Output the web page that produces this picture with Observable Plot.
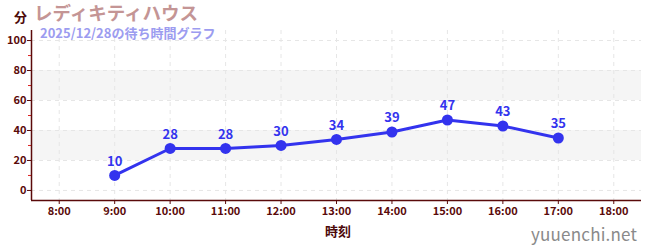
<!DOCTYPE html>
<html><head><meta charset="utf-8">
<script src="https://cdn.jsdelivr.net/npm/d3@7"></script>
<script src="https://cdn.jsdelivr.net/npm/@observablehq/plot@0.6"></script>
<style>
body{margin:0;background:#fff;font-family:"Noto Sans CJK JP","Noto Sans",sans-serif;}
#wrap{position:relative;width:650px;height:250px;overflow:hidden;}
.lab{position:absolute;font-weight:bold;white-space:nowrap;line-height:1;}
</style></head><body>
<div id="wrap">
<div id="chart"></div>
<div class="lab" style="left:14px;top:10px;font-size:13px;color:#4d0a0a;">分</div>
<div class="lab" style="left:34px;top:3px;font-size:18.5px;line-height:19px;color:#c49595;">レディキティハウス</div>
<div class="lab" style="left:40px;top:26px;font-size:13px;line-height:13px;color:#9c9cf0;">2025/12/28の待ち時間グラフ</div>
<div class="lab" style="left:325px;top:224px;font-size:13px;color:#4d0a0a;">時刻</div>
<div class="lab" style="left:531px;top:225px;font-size:17px;color:#8a8a8a;font-weight:normal;letter-spacing:0.2px;">yuuenchi.net</div>
</div>
<script>
const hours = [9, 10, 11, 12, 13, 14, 15, 16, 17];
const waits = [10, 28, 28, 30, 34, 39, 47, 43, 35];
const xTicks = [8, 9, 10, 11, 12, 13, 14, 15, 16, 17, 18];
const yTicks = [0, 20, 40, 60, 80, 100];
const yMinor = [10, 30, 50, 70, 90];
const bands = [[20, 40], [60, 80]];
const xDomain = [7.5, 18.5];
const yDomain = [-6.7, 106.7];

const data = hours.map((h, i) => ({h, w: waits[i]}));
const axisColor = "#5a0a0a";
const blue = "#3333ee";

const chart = Plot.plot({
  width: 650, height: 250,
  marginLeft: 31, marginRight: 9, marginTop: 30, marginBottom: 50,
  x: {domain: xDomain},
  y: {domain: yDomain},
  style: {fontFamily: '"Noto Sans CJK JP","Noto Sans",sans-serif', background: "transparent"},
  marks: [
    Plot.rectY(bands, {x1: xDomain[0], x2: xDomain[1], y1: d => d[0], y2: d => d[1], fill: "#f5f5f5"}),
    Plot.ruleX(xTicks, {stroke: "#e6e6e6", strokeDasharray: "4,4"}),
    Plot.ruleY(yTicks, {stroke: "#e6e6e6", strokeDasharray: "4,4"}),
    Plot.axisY(yMinor, {tickSize: 3, tickFormat: () => "", stroke: "#dd2222", label: null}),
    Plot.axisY(yTicks, {tickSize: 4, tickPadding: 1, color: axisColor, fontSize: 11, fontWeight: "bold", label: null}),
    Plot.axisX(xTicks, {tickSize: 4, tickPadding: 3, color: axisColor, fontSize: 11, fontWeight: "bold", tickFormat: d => d + ":00", label: null}),
    Plot.ruleX([xDomain[0]], {stroke: axisColor, strokeWidth: 1.5}),
    Plot.ruleY([yDomain[0]], {stroke: axisColor, strokeWidth: 1.5}),
    Plot.line(data, {x: "h", y: "w", stroke: blue, strokeWidth: 3}),
    Plot.dot(data, {x: "h", y: "w", fill: blue, r: 5.5}),
    Plot.text(data, {x: "h", y: "w", text: d => String(d.w), dy: -14, fill: blue, fontSize: 13, fontWeight: "bold"})
  ]
});
document.getElementById("chart").appendChild(chart);
</script>
</body></html>
